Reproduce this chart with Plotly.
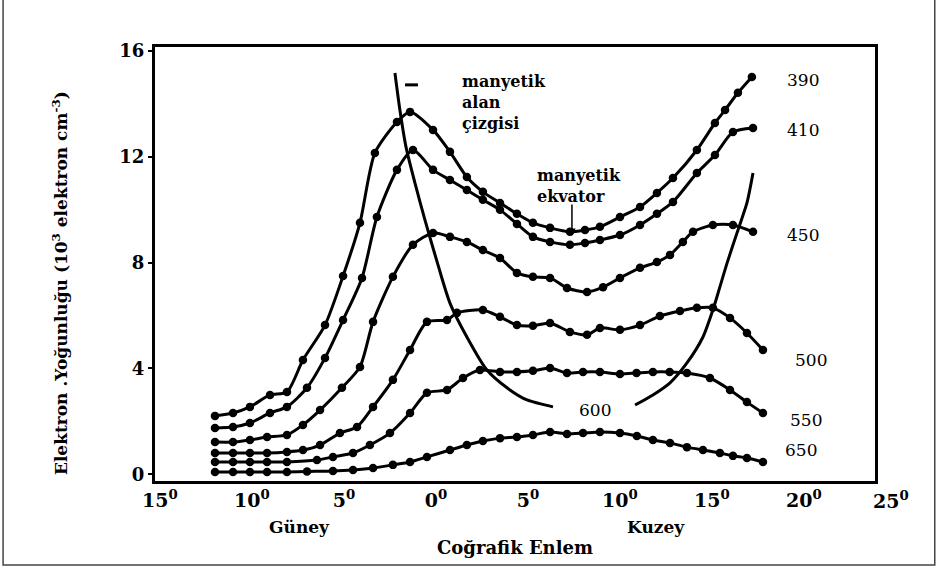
import plotly.graph_objects as go

FONT = "DejaVu Serif"

# Height labels (km) of the electron density curves
heights = ["390", "410", "450", "500", "550", "650"]

# Geographic latitude (deg, negative = South) and electron density (10^3 el/cm^3)
lat_390 = [-12.01, -11.03, -10.11, -9.02, -8.10, -7.23, -6.03, -5.05, -4.13, -3.32, -2.12, -1.41,
           -0.16, 0.76, 1.68, 2.55, 3.48, 4.40, 5.27, 6.20, 7.28, 8.10, 8.91, 10.0, 11.09, 12.01,
           12.88, 14.18, 15.16, 15.71, 16.41, 17.17]
ne_390 = [2.21, 2.32, 2.55, 3.00, 3.11, 4.32, 5.64, 7.49, 9.50, 12.14, 13.31, 13.69,
          13.01, 12.18, 11.23, 10.67, 10.25, 9.84, 9.50, 9.31, 9.16, 9.23, 9.35, 9.72, 10.10, 10.63,
          11.19, 12.25, 13.27, 13.76, 14.41, 15.01]

lat_410 = [-12.01, -11.03, -10.11, -9.02, -8.10, -7.01, -6.03, -5.05, -4.02, -3.21, -2.12, -1.25,
           -0.16, 0.76, 1.68, 2.55, 3.48, 4.40, 5.27, 6.20, 7.28, 8.10, 8.91, 10.0, 11.09, 12.01,
           12.88, 14.18, 15.16, 16.14, 17.23]
ne_410 = [1.75, 1.79, 1.94, 2.32, 2.55, 3.27, 4.40, 5.83, 7.42, 9.72, 11.50, 12.25,
          11.50, 11.12, 10.74, 10.37, 9.99, 9.46, 8.97, 8.78, 8.67, 8.74, 8.85, 9.04, 9.42, 9.84,
          10.29, 11.38, 12.06, 12.93, 13.08]

lat_450 = [-12.01, -11.03, -10.11, -9.18, -8.10, -7.23, -6.30, -5.11, -4.13, -3.42, -2.34, -1.25,
           -0.16, 0.76, 1.68, 2.55, 3.48, 4.40, 5.27, 6.20, 7.12, 8.21, 9.08, 10.0, 11.09, 12.01,
           12.72, 13.42, 13.97, 15.05, 16.14, 17.23]
ne_450 = [1.22, 1.22, 1.30, 1.41, 1.49, 1.87, 2.43, 3.27, 4.06, 5.76, 7.46, 8.67,
          9.12, 8.97, 8.78, 8.47, 8.17, 7.61, 7.46, 7.42, 7.04, 6.89, 7.07, 7.42, 7.80, 8.02,
          8.29, 8.78, 9.16, 9.42, 9.42, 9.16]

lat_500 = [-12.01, -11.03, -10.11, -9.18, -8.10, -7.23, -6.30, -5.22, -4.29, -3.42, -2.34, -1.41,
           -0.49, 0.60, 1.14, 2.55, 3.48, 4.40, 5.27, 6.20, 7.28, 8.21, 8.91, 10.0, 11.09, 12.17,
           13.26, 14.18, 15.05, 15.98, 16.90, 17.77]
ne_500 = [0.81, 0.81, 0.81, 0.81, 0.85, 0.92, 1.11, 1.56, 1.79, 2.55, 3.57, 4.70,
          5.76, 5.83, 6.10, 6.21, 5.95, 5.64, 5.61, 5.72, 5.38, 5.27, 5.53, 5.46, 5.64, 5.98,
          6.17, 6.29, 6.29, 5.91, 5.34, 4.70]

lat_550 = [-12.01, -11.03, -10.11, -9.18, -8.10, -6.47, -5.60, -4.51, -3.59, -2.50, -1.41, -0.49,
           0.60, 1.47, 2.39, 3.48, 4.40, 5.27, 6.20, 7.12, 7.99, 8.91, 10.0, 10.90, 11.79, 12.70,
           13.64, 14.89, 15.98, 16.90, 17.77]
ne_550 = [0.47, 0.47, 0.47, 0.47, 0.47, 0.54, 0.66, 0.81, 1.11, 1.56, 2.32, 3.08,
          3.19, 3.64, 3.94, 3.87, 3.87, 3.91, 4.02, 3.83, 3.87, 3.87, 3.79, 3.83, 3.87, 3.87,
          3.83, 3.64, 3.19, 2.73, 2.32]

lat_650 = [-12.01, -11.03, -10.11, -9.18, -8.10, -7.01, -5.60, -4.51, -3.42, -2.34, -1.41, -0.49,
           0.76, 1.68, 2.55, 3.48, 4.40, 5.27, 6.20, 7.12, 7.99, 8.91, 10.0, 10.92, 11.79, 12.72,
           13.64, 14.51, 15.43, 16.14, 16.90, 17.77]
ne_650 = [0.09, 0.09, 0.09, 0.09, 0.09, 0.11, 0.13, 0.17, 0.24, 0.36, 0.47, 0.66,
          0.92, 1.11, 1.26, 1.37, 1.41, 1.49, 1.60, 1.53, 1.56, 1.60, 1.56, 1.45, 1.30, 1.19,
          1.03, 0.92, 0.81, 0.70, 0.62, 0.47]

# Magnetic field line (600 km), two branches
fl_left_lat = [-2.23, -1.96, -1.63, -1.14, -0.60, 0.11, 0.76, 1.68, 2.77, 3.86, 4.95, 6.36]
fl_left_ne = [15.16, 13.76, 12.37, 11.00, 9.61, 7.91, 6.47, 5.19, 3.94, 3.27, 2.81, 2.55]
fl_right_lat = [10.82, 11.79, 12.72, 13.64, 14.51, 15.05, 15.43, 15.82, 16.36, 16.90, 17.23]
fl_right_ne = [2.62, 3.00, 3.46, 4.21, 5.19, 6.21, 7.08, 7.98, 9.12, 10.25, 11.38]

# small dash near top of field line
dash_lat = [-1.68, -0.98]
dash_ne = [14.71, 14.71]

# magnetic equator arrow (lat, from -> to)
equator_lat = 7.39
equator_arrow_ne = [10.25, 9.0]

x_tick_vals = [-15, -10, -5, 0, 5, 10, 15, 20]
x_tick_text = ["15<sup>0</sup>", "10<sup>0</sup>", "5<sup>0</sup>", "0<sup>0</sup>",
               "5<sup>0</sup>", "10<sup>0</sup>", "15<sup>0</sup>", "20<sup>0</sup>"]
y_tick_vals = [0, 4, 8, 12, 16]
y_tick_text = ["0", "4", "8", "12", "16"]

curves = [(lat_390, ne_390), (lat_410, ne_410), (lat_450, ne_450),
          (lat_500, ne_500), (lat_550, ne_550), (lat_650, ne_650)]

fig = go.Figure()
for (lx, ly), h in zip(curves, heights):
    fig.add_trace(go.Scatter(
        x=lx, y=ly, mode="lines+markers", name=h,
        line=dict(color="black", width=3, shape="spline", smoothing=0.7),
        marker=dict(color="black", size=8.5),
        cliponaxis=False))

for fx, fy in [(fl_left_lat, fl_left_ne), (fl_right_lat, fl_right_ne)]:
    fig.add_trace(go.Scatter(
        x=fx, y=fy, mode="lines",
        line=dict(color="black", width=3, shape="spline", smoothing=0.7)))

fig.add_trace(go.Scatter(x=dash_lat, y=dash_ne, mode="lines",
                         line=dict(color="black", width=3)))

annotations = []
def txt(x, y, text, size=17, bold=False, xanchor="left", **kw):
    annotations.append(dict(
        x=x, y=y, xref=kw.pop("xref", "x"), yref=kw.pop("yref", "y"), text=text,
        showarrow=False, xanchor=xanchor, yanchor="middle", align="left",
        font=dict(family=FONT, size=size, color="black",
                  weight="bold" if bold else "normal"), **kw))

txt(1.30, 14.03, "manyetik<br>alan<br>çizgisi", size=16, bold=True)
txt(5.38, 10.89, "manyetik<br>ekvator", size=16, bold=True)

label_pos = {"390": (18.97, 14.90), "410": (18.97, 13.01), "450": (18.97, 9.04),
             "500": (19.40, 4.32), "550": (19.13, 2.05), "650": (18.86, 0.92)}
for h in heights:
    lx, ly = label_pos[h]
    txt(lx, ly, h, size=17)
txt(7.66, 2.43, "600", size=17)

# arrow for magnetic equator
annotations.append(dict(
    x=equator_lat, y=equator_arrow_ne[1], ax=equator_lat, ay=equator_arrow_ne[0],
    xref="x", yref="y", axref="x", ayref="y", text="", showarrow=True,
    arrowhead=2, arrowsize=1, arrowwidth=1.5, arrowcolor="black"))

# 25 deg label just beyond the right frame edge
txt(1.022, -0.044, "25<sup>0</sup>", size=19, bold=True, xanchor="center",
    xref="paper", yref="paper")

# Güney / Kuzey / axis titles
txt(-7.4, -0.106, "Güney", size=17, bold=True, xanchor="center", yref="paper")
txt(11.95, -0.106, "Kuzey", size=17, bold=True, xanchor="center", yref="paper")
txt(0.5, -0.154, "Coğrafik Enlem", size=18, bold=True, xanchor="center", xref="paper", yref="paper")
annotations.append(dict(
    x=-0.132, y=0.456, xref="paper", yref="paper", showarrow=False, textangle=-90,
    text="Elektron .Yoğunluğu (10<sup>3</sup> elektron cm<sup>-3</sup>)",
    xanchor="center", yanchor="middle",
    font=dict(family=FONT, size=17, color="black", weight="bold")))

fig.update_layout(
    width=941, height=569,
    margin=dict(l=155, r=66, t=47, b=88),
    plot_bgcolor="white", paper_bgcolor="white",
    showlegend=False,
    annotations=annotations,
    shapes=[dict(type="rect", xref="paper", yref="paper",
                 x0=-0.211, x1=1.083, y0=-0.1935, y1=1.3,
                 line=dict(color="#444", width=1.5), layer="below")],
    xaxis=dict(range=[-15.27, 23.86], showgrid=False, zeroline=False,
               showline=True, mirror=True, linecolor="black", linewidth=3,
               tickvals=x_tick_vals, ticktext=x_tick_text, ticks="",
               ticklabelstandoff=0,
               tickfont=dict(family=FONT, size=19, color="black", weight="bold")),
    yaxis=dict(range=[-0.249, 16.14], showgrid=False, zeroline=False,
               showline=True, mirror=True, linecolor="black", linewidth=3,
               tickvals=y_tick_vals, ticktext=y_tick_text, ticks="outside",
               ticklen=4, tickwidth=2, tickcolor="black",
               tickfont=dict(family=FONT, size=18, color="black", weight="bold")),
)

fig.write_html("out.html")
